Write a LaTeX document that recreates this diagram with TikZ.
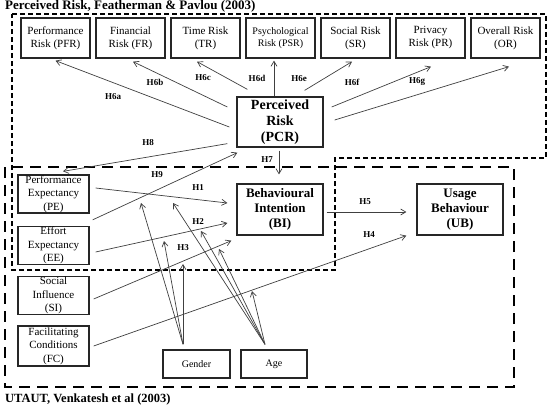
\documentclass[tikz,border=0pt]{standalone}
\usepackage{fontspec}
\setmainfont{Liberation Serif}
\usetikzlibrary{arrows.meta,calc}
\begin{document}
\begin{tikzpicture}[x=1pt,y=-1pt,
  box/.style={draw=black!85, line width=1.3pt, inner sep=0pt, align=center},
  riskbox/.style={box, minimum width=69pt, minimum height=40pt, font=\fontsize{11}{13}\selectfont},
  utbox/.style={box, minimum width=71pt, minimum height=38pt, font=\fontsize{11}{13.5}\selectfont},
  bigbox/.style={box, minimum width=86pt, minimum height=51pt, font=\bfseries\fontsize{13}{15}\selectfont},
  smallbox/.style={box, minimum width=67pt, minimum height=28pt, font=\fontsize{10}{12}\selectfont},
  conn/.style={draw=black!75, line width=0.7pt, -{Straight Barb[length=5pt,width=6pt]}},
  hlab/.style={font=\bfseries\fontsize{9}{10}\selectfont, inner sep=0pt},
  riskframe/.style={draw=black, line width=1.8pt, dash pattern=on 5pt off 3pt},
  utframe/.style={draw=black, line width=2.2pt, dash pattern=on 11pt off 7pt},
  ttl/.style={font=\bfseries\fontsize{13}{15}\selectfont, inner sep=0pt, anchor=base west}
]
\useasboundingbox (0,0) rectangle (549,412);
\clip (0,0) rectangle (549,412);
\fill[white] (0,0) rectangle (549,412);

% frames
\draw[riskframe] (12,14) -- (546,14) -- (546,158) -- (335,158) -- (335,270) -- (12,270) -- cycle;
\draw[utframe] (5,167) rectangle (514,387);

% titles
\node[ttl] (t1) at (5,10) {Perceived Risk, Featherman \& Pavlou (2003)};
\node[ttl, font=\bfseries\fontsize{12.5}{14}\selectfont] (t2) at (5,402) {UTAUT, Venkatesh et al (2003)};

% risk boxes
\node[riskbox] (pfr) at (55.5,38) {Performance\\Risk (PFR)};
\node[riskbox] (fr)  at (130.5,38) {Financial\\Risk (FR)};
\node[riskbox] (tr)  at (205.5,38) {Time Risk\\(TR)};
\node[riskbox, font=\fontsize{10}{12.5}\selectfont] (psr) at (280.5,38) {Psychological\\Risk (PSR)};
\node[riskbox] (sr)  at (355.5,38) {Social Risk\\(SR)};
\node[riskbox] (pr)  at (430.5,38) {Privacy\\Risk (PR)};
\node[riskbox] (or)  at (505.5,38) {Overall Risk\\(OR)};

% main boxes
\node[bigbox, minimum height=50pt, font=\bfseries\fontsize{14}{16}\selectfont] (pcr) at (280,122) {Perceived\\Risk\\(PCR)};
\node[bigbox] (bi) at (280,209.5) {Behavioural\\Intention\\(BI)};
\node[bigbox] (ub) at (460,209.5) {Usage\\Behaviour\\(UB)};

% UTAUT boxes
\node[utbox] (pe) at (53.5,194) {Performance\\Expectancy\\(PE)};
\node[utbox] (ee) at (53.5,245.5) {Effort\\Expectancy\\(EE)};
\node[utbox] (si) at (53.5,295.5) {Social\\Influence\\(SI)};
\node[utbox, minimum height=40pt] (fc) at (53.5,346) {Facilitating\\Conditions\\(FC)};
\node[smallbox] (gender) at (196.5,364) {Gender};
\node[smallbox, minimum width=66pt] (age) at (274,364) {Age};

% H6 arrows
\draw[conn] ($(pcr.west)+(-7,5)$) -- ($(pfr.south)+(0,2)$);
\draw[conn] ($(pcr.west)+(-9,-15)$) -- ($(fr.south)+(2.5,3)$);
\draw[conn] ($(pcr.north west)+(11,-7)$) -- ($(tr.south)+(-8.5,3)$);
\draw[conn] ($(pcr.north)+(-6,0)$) -- ($(psr.south)+(-6.5,2)$);
\draw[conn] ($(pcr.north east)+(-19,-6)$) -- ($(sr.south)+(-3.5,3)$);
\draw[conn] ($(pcr.east)+(8,-15)$) -- ($(pr.south)+(0.5,8)$);
\draw[conn] ($(pcr.east)+(11,-2)$) -- ($(or.south)+(3.5,8)$);
\node[hlab] (l6a) at (113,97) {H6a};
\node[hlab] (l6b) at (155,82) {H6b};
\node[hlab] (l6c) at (203,78) {H6c};
\node[hlab] (l6d) at (257,78) {H6d};
\node[hlab] (l6e) at (299,79) {H6e};
\node[hlab] (l6f) at (352,82) {H6f};
\node[hlab] (l6g) at (417,82) {H6g};

% H7, H8, H9
\draw[conn] ($(pcr.south)+(-1,3)$) -- ($(bi.north)+(-1,-9)$);
\draw[conn] ($(pcr.south west)+(-9,-4)$) -- ($(pe.north)+(9.5,-3)$);
\draw[conn] ($(ee.north east)+(3,-6)$) -- ($(pcr.south west)+(1,5)$);
\node[hlab] (l7) at (267,160) {H7};
\node[hlab] (l8) at (148,143) {H8};
\node[hlab] (l9) at (157,175) {H9};

% H1 - H5
\draw[conn] ($(pe.east)+(6,-6)$) -- ($(bi.west)+(-9,-6.5)$);
\draw[conn] ($(ee.east)+(6,6.5)$) -- ($(bi.west)+(-9,13.5)$);
\draw[conn] ($(si.east)+(4,3.5)$) -- ($(bi.south west)+(-5,5)$);
\draw[conn] ($(fc.east)+(4,0)$) -- ($(ub.south west)+(-10,0)$);
\draw[conn] ($(bi.east)+(3,2.5)$) -- ($(ub.west)+(-10,2.5)$);
\node[hlab] (l1) at (198,188) {H1};
\node[hlab] (l2) at (198,222) {H2};
\node[hlab] (l3) at (183,248) {H3};
\node[hlab] (l4) at (369,235) {H4};
\node[hlab] (l5) at (365,202) {H5};

% moderators
\coordinate (gtop) at ($(gender.north)+(-13.5,-5)$);
\coordinate (atop) at ($(age.north)+(-9,-5)$);
\coordinate (g1) at (141,203);
\coordinate (g2) at (164,241);
\coordinate (g3) at (183,264);
\coordinate (a1) at (173,203);
\coordinate (a2) at (201,231);
\coordinate (a3) at (219,249);
\coordinate (a4) at (252,291);
\draw[conn] (gtop) -- (g1);
\draw[conn] (gtop) -- (g2);
\draw[conn] (gtop) -- (g3);
\draw[conn] (atop) -- (a1);
\draw[conn] (atop) -- (a2);
\draw[conn] (atop) -- (a3);
\draw[conn] (atop) -- (a4);
\end{tikzpicture}
\end{document}
